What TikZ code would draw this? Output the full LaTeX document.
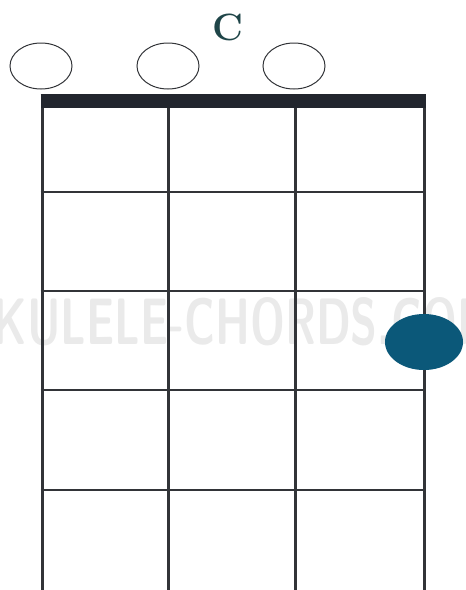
\documentclass[tikz,border=0pt]{standalone}
\usepackage{xcolor}
\usepackage{graphicx}
\usepackage{tikz}
\usetikzlibrary{positioning,calc,shapes.geometric}
\definecolor{chordtitle}{RGB}{31,69,72}
\definecolor{fingerdot}{RGB}{11,88,121}
\definecolor{gridline}{RGB}{50,52,56}
\definecolor{nutbar}{RGB}{34,38,46}
\definecolor{watermark}{RGB}{234,234,234}

\begin{document}
\begin{tikzpicture}[x=1pt,y=-1pt,
    open/.style={ellipse, draw=gridline, line width=1pt, minimum width=62pt, minimum height=46pt, inner sep=0pt},
    finger/.style={ellipse, fill=fingerdot, minimum width=78pt, minimum height=56pt, inner sep=0pt},
    stringline/.style={draw=gridline, line width=3pt},
    fretline/.style={draw=gridline, line width=2.6pt}]
           \useasboundingbox (0,0) rectangle (466,590);
           \clip (0,0) rectangle (466,590);
           % watermark behind the grid
           \node[text=watermark, inner sep=0pt] (wm) at (230,322) {\resizebox{540pt}{47pt}{\sffamily\bfseries UKULELE-CHORDS.COM}};
           \node[text=chordtitle, font=\bfseries\fontsize{38}{38}\selectfont, inner sep=0pt] (title) at (228,27.5) {C};
           \node[open] (o1) at (41,66) {};
           \node[open] (o2) at (168,66) {};
           \node[open] (o3) at (294,66) {};
           \foreach \s/\x in {1/42,2/168,3/295,4/424} {
             \coordinate (s\s top) at (\x,101);
             \coordinate (s\s bot) at (\x,590);
             \draw[stringline] (s\s top) -- (s\s bot);
           }
           \foreach \y in {192,291,390,490}
             \draw[fretline] (40.5,\y) -- (425.5,\y);
           \draw[nutbar, line width=14pt] (40.5,101) -- (425.5,101);
           \node[finger] (dot) at (424,342) {};
        \end{tikzpicture}
\end{document}
